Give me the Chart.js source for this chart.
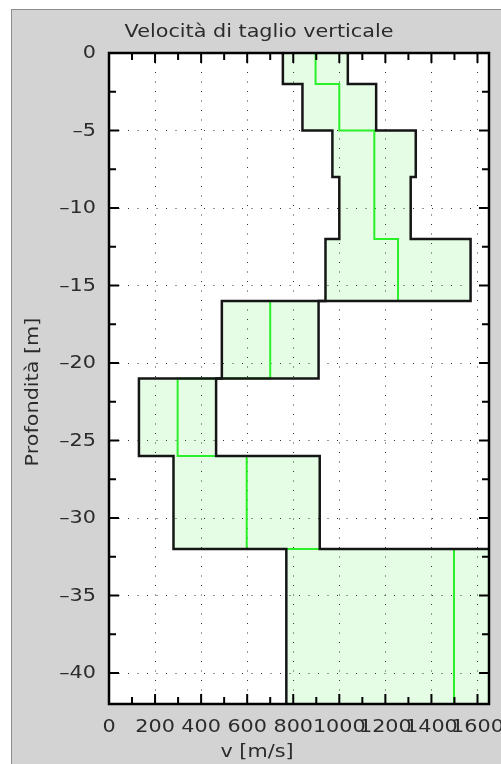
<!DOCTYPE html>
<html lang="it">
<head>
<meta charset="UTF-8">
<title>Velocità di taglio verticale</title>
<script src="https://cdn.jsdelivr.net/npm/chart.js"></script>
<style>
  * { margin: 0; padding: 0; box-sizing: border-box; }
  body { background: #fff; width: 501px; height: 764px; overflow: hidden; }
  #panel { position: absolute; left: 11px; top: 9px; width: 490px; height: 755px; background: #d3d3d3; border-top: 1px solid #8c8c8c; border-left: 1px solid #8c8c8c; }
  #chart { position: absolute; left: 0; top: 0; }
</style>
</head>
<body>
<div id="panel"></div>
<canvas id="chart" width="501" height="764"></canvas>
<script>
// layer boundaries (depth, m) and Vs per layer (m/s)
const layerDepths = [0, 2, 5, 8, 12, 16, 21, 26, 32, 42];
const vsMin  = [755, 840, 970, 1000, 940, 490, 130, 280, 770];
const vsMean = [897, 1000, 1152, 1152, 1255, 700, 298, 598, 1498];
const vsMax  = [1037, 1160, 1332, 1310, 1570, 910, 465, 915, 2225];

const xTicks = [0, 200, 400, 600, 800, 1000, 1200, 1400, 1600];
const xMinorTicks = [100, 300, 500, 700, 900, 1100, 1300, 1500];
const yTicks = [0, -5, -10, -15, -20, -25, -30, -35, -40];
const yMinorTicks = [-2.5, -7.5, -12.5, -17.5, -22.5, -27.5, -32.5, -37.5];

const TITLE = 'Velocità di taglio verticale';
const X_TITLE = 'v [m/s]';
const Y_TITLE = 'Profondità [m]';

const FONT = '17px "DejaVu Sans", Verdana, sans-serif';
const SX = 1.22; // the original font is wider than DejaVu

function stepProfile(values) {
  const pts = [];
  values.forEach((v, i) => {
    pts.push({ x: v, y: -layerDepths[i] });
    pts.push({ x: v, y: -layerDepths[i + 1] });
  });
  return pts;
}

const minPts = stepProfile(vsMin);
const maxPts = stepProfile(vsMax);
const meanPts = stepProfile(vsMean);
const bandPts = minPts.concat(maxPts.slice().reverse());

function wideText(ctx, text, x, y, align, baseline, rot) {
  ctx.save();
  ctx.translate(x, y);
  if (rot) ctx.rotate(rot);
  ctx.scale(SX, 1);
  ctx.textAlign = align;
  ctx.textBaseline = baseline;
  ctx.fillText(text, 0, 0);
  ctx.restore();
}

// negative labels use a wide dash like the original
const fmtY = v => (v < 0 ? '\u2013' + Math.abs(v) : String(v));

const plotBg = {
  id: 'plotBg',
  beforeDraw(chart) {
    const { ctx, chartArea: a } = chart;
    ctx.save();
    ctx.fillStyle = '#fff';
    ctx.fillRect(a.left, a.top, a.right - a.left, a.bottom - a.top);
    ctx.restore();
  }
};

const frame = {
  id: 'frame',
  afterDatasetsDraw(chart) {
    const { ctx, chartArea: a, scales: { x, y } } = chart;
    ctx.save();
    ctx.strokeStyle = '#000';
    ctx.lineWidth = 2;
    ctx.beginPath();
    const tick = (px, len, horiz) => {
      if (horiz) {
        ctx.moveTo(px, a.bottom); ctx.lineTo(px, a.bottom - len);
        ctx.moveTo(px, a.top); ctx.lineTo(px, a.top + len);
      } else {
        ctx.moveTo(a.left, px); ctx.lineTo(a.left + len, px);
        ctx.moveTo(a.right, px); ctx.lineTo(a.right - len, px);
      }
    };
    xTicks.forEach(v => tick(x.getPixelForValue(v), 10, true));
    xMinorTicks.forEach(v => tick(x.getPixelForValue(v), 7, true));
    yTicks.forEach(v => tick(y.getPixelForValue(v), 10, false));
    yMinorTicks.forEach(v => tick(y.getPixelForValue(v), 7, false));
    ctx.stroke();
    ctx.lineWidth = 2.5;
    ctx.strokeRect(a.left, a.top, a.right - a.left, a.bottom - a.top);
    ctx.restore();
  },
  afterDraw(chart) {
    const { ctx, chartArea: a, scales: { x, y } } = chart;
    ctx.save();
    ctx.font = FONT;
    ctx.fillStyle = '#2b2b2b';
    xTicks.forEach(v => wideText(ctx, String(v), x.getPixelForValue(v), a.bottom + 28, 'center', 'alphabetic'));
    yTicks.forEach(v => wideText(ctx, fmtY(v), a.left - 13, y.getPixelForValue(v) + 1, 'right', 'middle'));
    wideText(ctx, TITLE, 259, 37, 'center', 'alphabetic');
    wideText(ctx, X_TITLE, 257, 757, 'center', 'alphabetic');
    wideText(ctx, Y_TITLE, 38, 392, 'center', 'alphabetic', -Math.PI / 2);
    ctx.restore();
  }
};

new Chart(document.getElementById('chart'), {
  type: 'line',
  data: {
    datasets: [
      { label: 'Vs min', data: minPts, borderColor: '#151515', borderWidth: 2.5, pointRadius: 0, fill: false },
      { label: 'Vs max', data: maxPts, borderColor: '#151515', borderWidth: 2.5, pointRadius: 0, fill: false },
      { label: 'Vs medio', data: meanPts, borderColor: '#2af02a', borderWidth: 2, pointRadius: 0, fill: false },
      { label: 'banda', data: bandPts, borderWidth: 0, borderColor: 'rgba(0,0,0,0)', pointRadius: 0,
        fill: 'shape', backgroundColor: 'rgba(0,235,0,0.1)' }
    ]
  },
  options: {
    responsive: false,
    devicePixelRatio: 1,
    animation: false,
    layout: { padding: { left: 109, top: 53, right: 12, bottom: 60 } },
    plugins: { legend: { display: false }, tooltip: { enabled: false }, title: { display: false } },
    scales: {
      x: {
        type: 'linear', min: 0, max: 1650,
        ticks: { display: false, stepSize: 200, includeBounds: false },
        grid: { color: '#333', lineWidth: 1, drawTicks: false },
        border: { display: false, dash: [1, 8.5] },
        afterFit(s) { s.height = 0; }
      },
      y: {
        type: 'linear', min: -42, max: 0,
        ticks: { display: false, stepSize: 5, includeBounds: false },
        grid: { color: '#333', lineWidth: 1, drawTicks: false },
        border: { display: false, dash: [1, 8.5] },
        afterFit(s) { s.width = 0; }
      }
    }
  },
  plugins: [plotBg, frame]
});
</script>
</body>
</html>
